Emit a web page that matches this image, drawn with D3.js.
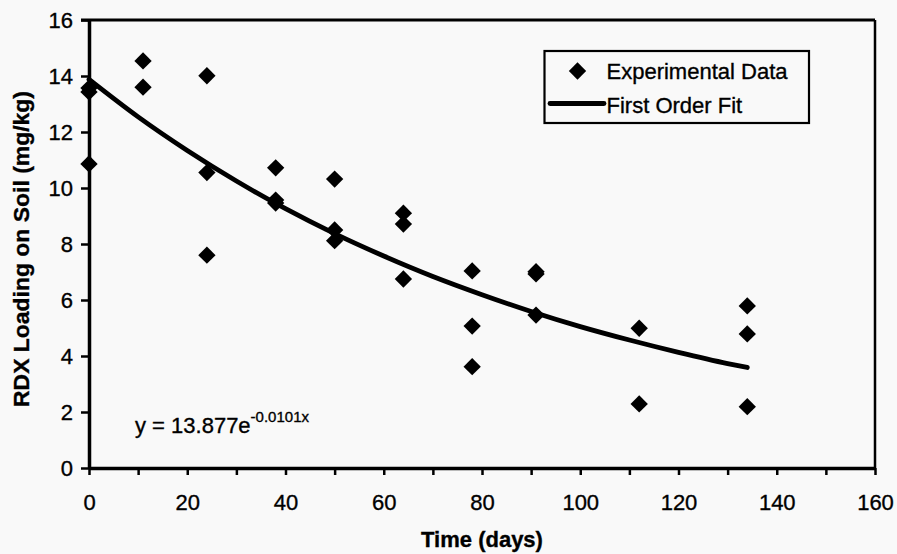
<!DOCTYPE html>
<html>
<head>
<meta charset="utf-8">
<script src="https://cdn.jsdelivr.net/npm/d3@7"></script>
<style>
  html, body { margin: 0; padding: 0; background: #f9f9f9; }
  svg { display: block; }
  text { font-family: "Liberation Sans", Arial, Helvetica, sans-serif; fill: #000; stroke: #000; stroke-width: 0.35px; }
</style>
</head>
<body>
<svg id="chart" width="897" height="554"></svg>
<script>
// ---- Data ----
const timeDays   = [0, 0, 0, 11, 11, 24, 24, 24, 38, 38, 38, 50, 50, 50, 64, 64, 64, 78, 78, 78, 91, 91, 91, 112, 112, 134, 134, 134];
const rdxLoading = [13.57, 13.43, 10.86, 14.54, 13.6, 14.01, 10.55, 7.6, 10.72, 9.57, 9.46, 10.32, 8.5, 8.12, 9.1, 8.71, 6.75, 7.04, 5.07, 3.62, 7.01, 6.93, 5.46, 4.99, 2.29, 5.79, 4.79, 2.19];

// First order fit curve (as drawn in the reference)
const fitTime    = [0, 10, 20, 30, 40, 50, 60, 70, 80, 90, 100, 110, 120, 130, 134];
const fitLoading = [13.88, 12.54, 11.34, 10.25, 9.26, 8.37, 7.57, 6.84, 6.19, 5.59, 5.05, 4.57, 4.13, 3.73, 3.59];

const xTicks = [0, 10, 20, 30, 40, 50, 60, 70, 80, 90, 100, 110, 120, 130, 140, 150, 160];
const xTickLabels = [0, 20, 40, 60, 80, 100, 120, 140, 160];
const yTicks = [0, 2, 4, 6, 8, 10, 12, 14, 16];

const xTitle = "Time (days)";
const yTitle = "RDX Loading on Soil (mg/kg)";
const legendLabels = ["Experimental Data", "First Order Fit"];
const equationMain = "y = 13.877e";
const equationSup = "-0.0101x";

// ---- Layout ----
const svg = d3.select("#chart");
const plot = { left: 89, right: 875, top: 20, bottom: 468 };

const x = d3.scaleLinear().domain([0, 160]).range([plot.left, plot.right]);
const y = d3.scaleLinear().domain([0, 16]).range([plot.bottom, plot.top]);

// top and right frame
svg.append("line").attr("x1", plot.left - 8).attr("x2", plot.right)
  .attr("y1", plot.top).attr("y2", plot.top)
  .attr("stroke", "#000").attr("stroke-width", 3);
svg.append("line").attr("x1", plot.right).attr("x2", plot.right)
  .attr("y1", plot.top).attr("y2", plot.bottom)
  .attr("stroke", "#000").attr("stroke-width", 2.5);

// x axis
const xAxis = d3.axisBottom(x)
  .tickValues(xTicks)
  .tickSize(7)
  .tickSizeOuter(0)
  .tickFormat(d => xTickLabels.includes(d) ? String(d) : "");
const gx = svg.append("g").attr("transform", `translate(0,${plot.bottom})`).call(xAxis);
gx.select(".domain").attr("stroke", "#000").attr("stroke-width", 3.5);
gx.selectAll(".tick line").attr("stroke", "#000").attr("stroke-width", 2.5);
gx.selectAll(".tick text")
  .attr("y", 42).attr("dy", 0)
  .style("font-size", "22px").style("font-family", "'Liberation Sans', Arial, sans-serif").attr("fill", "#000");

// y axis
const yAxis = d3.axisLeft(y)
  .tickValues(yTicks)
  .tickSize(8)
  .tickSizeOuter(0)
  .tickPadding(8)
  .tickFormat(d3.format("d"));
const gy = svg.append("g").attr("transform", `translate(${plot.left},0)`).call(yAxis);
gy.select(".domain").attr("stroke", "#000").attr("stroke-width", 3.5);
gy.selectAll(".tick line").attr("stroke", "#000").attr("stroke-width", 2.5);
gy.selectAll(".tick text")
  .attr("dy", "0.36em")
  .style("font-size", "22px").style("font-family", "'Liberation Sans', Arial, sans-serif").attr("fill", "#000");

// axis titles
svg.append("text")
  .attr("x", 482).attr("y", 547)
  .attr("text-anchor", "middle")
  .style("font-size", "22px").style("font-weight", "bold")
  .text(xTitle);

svg.append("text")
  .attr("transform", "translate(28.5,249) rotate(-90)")
  .attr("text-anchor", "middle")
  .style("font-size", "22px").style("font-weight", "bold")
  .attr("textLength", 316).attr("lengthAdjust", "spacingAndGlyphs")
  .text(yTitle);

// fit line
const line = d3.line()
  .x((d, i) => x(fitTime[i]))
  .y((d, i) => y(fitLoading[i]))
  .curve(d3.curveMonotoneX);
svg.append("path")
  .datum(fitLoading)
  .attr("d", line)
  .attr("fill", "none")
  .attr("stroke", "#000")
  .attr("stroke-width", 4.8)
  .attr("stroke-linecap", "round")
  .attr("stroke-linejoin", "round");

// data markers (diamonds)
const diamond = d3.symbol().type(d3.symbolSquare).size(150);
svg.append("g").selectAll("path")
  .data(rdxLoading)
  .join("path")
  .attr("d", diamond)
  .attr("transform", (d, i) => `translate(${x(timeDays[i])},${y(d)}) rotate(45)`)
  .attr("fill", "#000");

// equation
const eq = svg.append("text")
  .attr("x", 135).attr("y", 433)
  .style("font-size", "22px");
eq.append("tspan").text(equationMain);
eq.append("tspan").attr("dy", -11.5).style("font-size", "15px").text(equationSup);

// legend
const lg = svg.append("g");
lg.append("rect")
  .attr("x", 544.5).attr("y", 51).attr("width", 264.5).attr("height", 72)
  .attr("fill", "#f9f9f9").attr("stroke", "#000").attr("stroke-width", 2.2);
lg.append("path")
  .attr("d", diamond)
  .attr("transform", "translate(577.5,71) rotate(45)")
  .attr("fill", "#000");
lg.append("text").attr("x", 606.5).attr("y", 79)
  .style("font-size", "22px").text(legendLabels[0]);
lg.append("line").attr("x1", 550).attr("x2", 604).attr("y1", 103.5).attr("y2", 103.5)
  .attr("stroke", "#000").attr("stroke-width", 4.8).attr("stroke-linecap", "round");
lg.append("text").attr("x", 606.5).attr("y", 112.5)
  .style("font-size", "22px").text(legendLabels[1]);
</script>
</body>
</html>
